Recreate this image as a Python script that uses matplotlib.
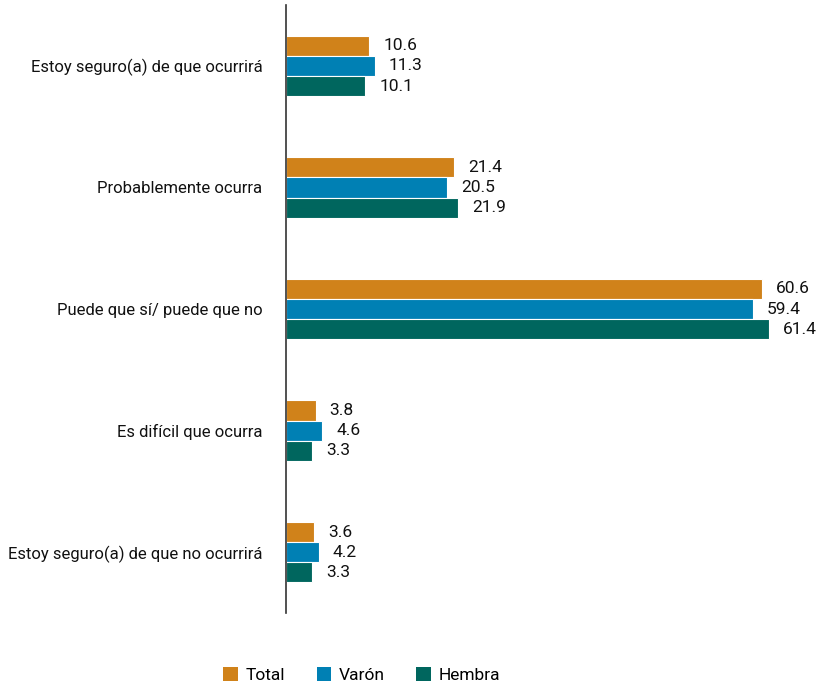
import matplotlib.pyplot as plt
from matplotlib.patches import Patch
import numpy as np

categories = [
    "Estoy seguro(a) de que ocurrirá",
    "Probablemente ocurra",
    "Puede que sí/ puede que no",
    "Es difícil que ocurra",
    "Estoy seguro(a) de que no ocurrirá",
]
series_names = ["Total", "Varón", "Hembra"]
total = [10.6, 21.4, 60.6, 3.8, 3.6]
varon = [11.3, 20.5, 59.4, 4.6, 4.2]
hembra = [10.1, 21.9, 61.4, 3.3, 3.3]
colors = ["#D0821A", "#0080B4", "#00665E"]

plt.rcParams["font.family"] = ["Roboto", "DejaVu Sans"]

fig = plt.figure(figsize=(8.17, 6.9), dpi=100)
ax = fig.add_axes([0.350, 0.1116, 0.641, 0.881])

y = np.arange(len(categories))
h = 0.166
for i, (vals, color) in enumerate(zip([total, varon, hembra], colors)):
    pos = y + (i - 1) * h
    ax.barh(pos, vals, height=h, color=color, edgecolor="white", linewidth=0.8)
    for p, v in zip(pos, vals):
        ax.annotate(f"{v:.1f}", (v, p), xytext=(10, 0), textcoords="offset points",
                    va="center", ha="left", fontsize=12.5, color="#111111")

ax.set_ylim(len(categories) - 0.5, -0.5)
ax.set_xlim(0, 66.6)
ax.set_yticks(y)
ax.set_yticklabels(categories, fontsize=12, color="#111111")
ax.tick_params(axis="y", length=0, pad=17)
ax.set_xticks([])
for s in ["top", "right", "bottom"]:
    ax.spines[s].set_visible(False)
ax.spines["left"].set_color("#333333")
ax.spines["left"].set_linewidth(1.2)

handles = [Patch(facecolor=c, label=n) for c, n in zip(colors, series_names)]
fig.legend(handles=handles, loc="center", bbox_to_anchor=(0.443, 0.022), ncol=3,
           frameon=False, fontsize=12.5, handlelength=0.85, handleheight=0.85,
           handletextpad=0.45, columnspacing=1.8)

fig.savefig("out.png", dpi=100)
